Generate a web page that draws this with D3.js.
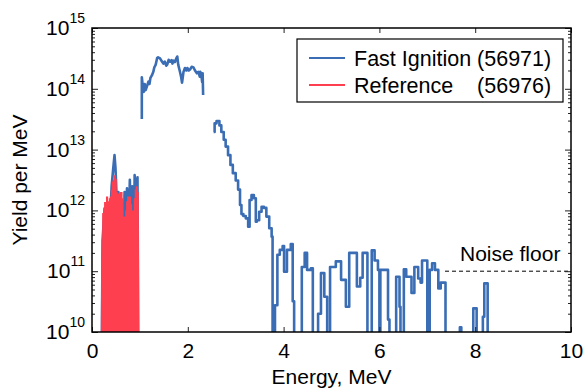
<!DOCTYPE html>
<html>
<head>
<meta charset="utf-8">
<script src="https://cdn.jsdelivr.net/npm/d3@7"></script>
<style>
  body { margin: 0; background: #fff; }
  svg { display: block; font-family: "Liberation Sans", Arial, sans-serif; }
</style>
</head>
<body>
<svg class="yield-chart"></svg>
<script>
// Fast Ignition shot, low-energy part (linear segments).
const fiLowEnergy = [0.20, 0.22, 0.26, 0.30, 0.34, 0.38, 0.41, 0.44, 0.47, 0.49, 0.51, 0.53, 0.55, 0.58,
  0.60, 0.62, 0.65, 0.68, 0.70, 0.73, 0.76, 0.79, 0.82, 0.84, 0.87, 0.89, 0.92, 0.95, 0.97];
const fiLowYield = [1e9, 3.2e11, 1e12, 6.3e11, 1.26e12, 7.9e11, 2.5e12, 4.6e12, 8.1e12, 5.0e12, 2.0e12, 7.9e11, 2.0e12, 2.0e11,
  3.2e11, 1e12, 2.0e11, 2.0e12, 1.6e11, 2.3e12, 3.7e11, 3.2e12, 1.6e11, 2.5e12, 1e11, 3.8e12, 1.58e12, 3.5e12, 1e9];

// Fast Ignition shot, peak between 1 and 2.3 MeV.
const fiPeakEnergy = [1.04, 1.04, 1.06, 1.08, 1.10, 1.12, 1.15, 1.18, 1.20, 1.22, 1.25, 1.28, 1.30, 1.33, 1.36, 1.38,
  1.42, 1.45, 1.49, 1.52, 1.55, 1.57, 1.60, 1.63, 1.66, 1.68, 1.70, 1.73, 1.76, 1.78, 1.80, 1.83, 1.86, 1.88,
  1.91, 1.94, 1.97, 1.99, 2.02, 2.05, 2.08, 2.12, 2.15, 2.19, 2.22, 2.25, 2.26, 2.28, 2.30, 2.31, 2.32];
const fiPeakYield = [3.2e13, 1.55e14, 1.12e14, 8.9e13, 1.2e14, 9.5e13, 1.12e14, 1.32e14, 1.2e14, 1.51e14, 1.66e14, 1.9e14, 2.24e14, 2.5e14, 3.2e14, 3.3e14,
  3.16e14, 2.9e14, 2.6e14, 2.8e14, 2.4e14, 2.5e14, 3.0e14, 2.8e14, 2.95e14, 2.6e14, 2.9e14, 2.75e14, 3.16e14, 3.4e14, 2.5e14, 2.0e14, 1.58e14, 1.26e14,
  1.9e14, 2.2e14, 2.0e14, 2.2e14, 2.0e14, 2.1e14, 2.3e14, 2.24e14, 2.0e14, 1.8e14, 1.9e14, 1.58e14, 1.9e14, 1.74e14, 1.29e14, 1.8e14, 7.9e13];

// Fast Ignition shot, tail from 2.5 MeV (histogram steps).
const fiTailEnergy = [2.54, 2.56, 2.60, 2.66, 2.70, 2.75, 2.79, 2.84, 2.89, 2.94, 3.00, 3.05, 3.09, 3.12, 3.16, 3.21,
  3.26, 3.29, 3.33, 3.38, 3.42, 3.44, 3.49, 3.54, 3.59, 3.64, 3.70, 3.75, 3.77, 3.82, 3.87, 3.92, 3.98, 4.01,
  4.07, 4.15, 4.19, 4.22, 4.38, 4.44, 4.49, 4.57, 4.61, 4.72, 4.78, 4.85, 4.91, 4.97, 5.09, 5.20, 5.30, 5.37,
  5.53, 5.60, 5.65, 5.75, 5.84, 5.90, 5.97, 6.00, 6.02, 6.18, 6.21, 6.35, 6.42, 6.44, 6.51, 6.56, 6.67, 6.73,
  6.81, 6.86, 6.89, 7.00, 7.05, 7.10, 7.16, 7.23, 7.28, 7.38, 7.68, 7.71, 7.96, 8.03, 8.16, 8.19, 8.26, 8.30];
const fiTailYield = [1.95e13, 2.7e13, 2.95e13, 2.5e13, 1.95e13, 1.45e13, 1.12e13, 8.1e12, 5.6e12, 4.1e12, 3.1e12, 2.2e12, 1.23e12, 8.7e11, 8.1e11, 7.4e11,
  5.4e11, 1.48e12, 1.78e12, 1.58e12, 6.5e11, 6.9e11, 9.5e11, 1.15e12, 1.1e12, 7.9e11, 5.1e11, 3.7e11, 1e9, 2.75e10, 1.86e11, 2.24e11, 2.6e11, 9.8e10,
  2.24e11, 2.8e11, 3.2e10, 1e9, 1.17e11, 2.0e11, 1.05e11, 1.12e11, 1e9, 2.0e10, 9.3e10, 3.8e10, 1e9, 1.17e11, 1.45e11, 7.2e10, 2.6e10, 2.0e11,
  5.6e10, 7.8e10, 2.0e11, 1e9, 2.2e11, 1.5e11, 1.05e11, 1e9, 1.05e11, 1.6e10, 1e9, 8.1e10, 2.6e10, 1e9, 1.07e11, 8.1e10, 4.4e10, 1.17e11,
  7.6e10, 6.5e10, 1.5e11, 1e9, 1.05e11, 1.35e11, 1.05e11, 5.2e10, 6.5e10, 1e9, 1.2e10, 1e9, 2.45e10, 1e9, 1.78e10, 6.3e10, 1e9, 1e9];

// Reference shot.
const refEnergy = [0.200, 0.215, 0.225, 0.235, 0.245, 0.255, 0.265, 0.275, 0.285, 0.295, 0.305, 0.315, 0.325, 0.335,
  0.345, 0.355, 0.365, 0.375, 0.385, 0.395, 0.405, 0.415, 0.425, 0.435, 0.445, 0.455, 0.465, 0.475, 0.485,
  0.495, 0.505, 0.515, 0.525, 0.535, 0.545, 0.555, 0.565, 0.575, 0.585, 0.595, 0.605, 0.615, 0.625, 0.635,
  0.645, 0.655, 0.665, 0.675, 0.685, 0.695, 0.705, 0.715, 0.725, 0.735, 0.745, 0.755, 0.765, 0.775, 0.785,
  0.795, 0.805, 0.815, 0.825, 0.835, 0.845, 0.855, 0.865, 0.875, 0.885, 0.895, 0.905, 0.915, 0.925, 0.935,
  0.945, 0.955, 0.965];
const refYield = [1e9, 1.6e11, 1e9, 9.1e11, 3e9, 1.12e12, 1e10, 1.38e12, 1e9, 1.26e12, 1.6e10, 1.7e12, 1e9, 1.41e12,
  6e9, 1.12e12, 1e9, 1.58e12, 3e10, 1.7e12, 1e9, 2.2e12, 4e9, 3.0e12, 1e9, 3.2e12, 1.2e10, 3.8e12, 1e9,
  3.3e12, 2.5e9, 2.0e12, 1e9, 1.58e12, 1e9, 1.9e12, 1e10, 1.78e12, 1e9, 2.0e12, 5e9, 2.0e12, 1e9, 1.58e12,
  2e10, 6.3e11, 1e9, 7.9e11, 2e9, 4.0e11, 1e9, 1.0e12, 6e9, 1.41e12, 1e9, 1.7e12, 1e10, 1.58e12, 1e9,
  1.7e12, 3e9, 1.26e12, 1e9, 7.9e11, 1.6e10, 1.0e12, 1e9, 6.3e11, 4e9, 1.58e12, 1e9, 2.2e12, 8e9, 2.5e12,
  1e9, 2.0e12, 1e9];

const xTicks = [0, 2, 4, 6, 8, 10];
const yDecades = [1e10, 1e11, 1e12, 1e13, 1e14, 1e15];
const noiseFloor = 1e11;
const noiseFloorStart = 7.37;
const legendLabels = ['Fast Ignition', 'Reference'];
const legendShots = ['(56971)', '(56976)'];

const width = 586;
const height = 392;
const plot = { left: 92, right: 571, top: 28, bottom: 332 };
const blue = '#3a6db4';
const red = '#fd3f4f';
const font = 21;

const svg = d3.select('.yield-chart')
  .attr('width', width)
  .attr('height', height)
  .attr('viewBox', `0 0 ${width} ${height}`);

const xScale = d3.scaleLinear().domain([0, 10]).range([plot.left, plot.right]);
const yScale = d3.scaleLog().domain([1e10, 1e15]).range([plot.bottom, plot.top]);

svg.append('clipPath').attr('id', 'plot-clip')
  .append('rect')
  .attr('x', plot.left).attr('y', plot.top)
  .attr('width', plot.right - plot.left)
  .attr('height', plot.bottom - plot.top);

const data = svg.append('g').attr('clip-path', 'url(#plot-clip)');

const line = d3.line()
  .x((d) => xScale(d[0]))
  .y((d) => yScale(d[1]));
const stepLine = d3.line()
  .x((d) => xScale(d[0]))
  .y((d) => yScale(d[1]))
  .curve(d3.curveStepAfter);

// Blue first so that the reference shot sits on top of it.
[
  [fiLowEnergy, fiLowYield, line],
  [fiPeakEnergy, fiPeakYield, line],
  [fiTailEnergy, fiTailYield, stepLine],
].forEach(([e, v, gen]) => {
  data.append('path')
    .datum(d3.zip(e, v))
    .attr('d', gen)
    .attr('fill', 'none')
    .attr('stroke', blue)
    .attr('stroke-width', 2.6)
    .attr('stroke-linejoin', 'round');
});

data.append('path')
  .datum(d3.zip(refEnergy, refYield))
  .attr('d', line)
  .attr('fill', 'none')
  .attr('stroke', red)
  .attr('stroke-width', 2.2);

// Noise floor marker.
svg.append('line')
  .attr('x1', xScale(noiseFloorStart)).attr('x2', xScale(10))
  .attr('y1', yScale(noiseFloor)).attr('y2', yScale(noiseFloor))
  .attr('stroke', '#000')
  .attr('stroke-width', 1)
  .attr('stroke-dasharray', '4,3');
svg.append('text')
  .attr('x', 460).attr('y', 261)
  .attr('font-size', font)
  .text('Noise floor');

/**
 * Axes: all ticks point inward, minor log ticks on left and right.
 */
const yMinor = yScale.ticks().filter((t) => !yDecades.includes(t));
const cleanAxis = (g) => {
  g.select('.domain').remove();
  g.selectAll('.tick line').attr('stroke', '#222').attr('stroke-width', 1);
};

svg.append('g')
  .attr('transform', `translate(0, ${plot.bottom})`)
  .call(d3.axisBottom(xScale).tickValues(xTicks).tickSize(-5).tickPadding(11).tickFormat(d3.format('d')))
  .call(cleanAxis)
  .selectAll('text')
  .attr('font-size', font)
  .attr('font-family', null)
  .attr('fill', '#000');

svg.append('g')
  .attr('transform', `translate(0, ${plot.top})`)
  .call(d3.axisTop(xScale).tickValues(xTicks).tickSize(-5).tickFormat(''))
  .call(cleanAxis);

[[d3.axisLeft, plot.left], [d3.axisRight, plot.right]].forEach(([axis, pos]) => {
  svg.append('g')
    .attr('transform', `translate(${pos}, 0)`)
    .call(axis(yScale).tickValues(yDecades).tickSize(-6).tickFormat(''))
    .call(cleanAxis);
  svg.append('g')
    .attr('transform', `translate(${pos}, 0)`)
    .call(axis(yScale).tickValues(yMinor).tickSize(-3).tickFormat(''))
    .call(cleanAxis);
});

// Y tick labels as 10 with a superscript exponent.
const yLabels = svg.append('g').attr('text-anchor', 'end');
yDecades.forEach((v) => {
  const t = yLabels.append('text')
    .attr('x', 85)
    .attr('y', yScale(v) + 7);
  t.append('tspan').attr('font-size', font).text('10');
  t.append('tspan').attr('font-size', 14).attr('dy', -12).text(Math.round(Math.log10(v)));
});

// Frame.
svg.append('rect')
  .attr('x', plot.left).attr('y', plot.top)
  .attr('width', plot.right - plot.left)
  .attr('height', plot.bottom - plot.top)
  .attr('fill', 'none')
  .attr('stroke', '#000')
  .attr('stroke-width', 1.5);

// Axis titles.
svg.append('text')
  .attr('x', (plot.left + plot.right) / 2)
  .attr('y', 384)
  .attr('text-anchor', 'middle')
  .attr('font-size', font)
  .text('Energy, MeV');

svg.append('text')
  .attr('transform', `translate(27, ${(plot.top + plot.bottom) / 2}) rotate(-90)`)
  .attr('text-anchor', 'middle')
  .attr('font-size', font)
  .text('Yield per MeV');

// Legend: first row is one string, the second shot number lines up with its end.
const legend = svg.append('g');
legend.append('rect')
  .attr('x', 297).attr('y', 39)
  .attr('width', 266).attr('height', 63)
  .attr('fill', '#fff')
  .attr('stroke', '#000')
  .attr('stroke-width', 1.2);
const legendFont = 21.5;
let rowEnd = 557;
[blue, red].forEach((c, i) => {
  const rowY = 58 + i * 27;
  legend.append('line')
    .attr('x1', 309).attr('x2', 345)
    .attr('y1', rowY).attr('y2', rowY)
    .attr('stroke', c)
    .attr('stroke-width', 2.2);
  if (i === 0) {
    const t = legend.append('text')
      .attr('x', 354).attr('y', rowY + 8)
      .attr('font-size', legendFont)
      .text(`${legendLabels[i]} ${legendShots[i]}`);
    rowEnd = 354 + t.node().getComputedTextLength();
  } else {
    legend.append('text')
      .attr('x', 354).attr('y', rowY + 8)
      .attr('font-size', legendFont)
      .text(legendLabels[i]);
    legend.append('text')
      .attr('x', rowEnd).attr('y', rowY + 8)
      .attr('text-anchor', 'end')
      .attr('font-size', legendFont)
      .text(legendShots[i]);
  }
});
</script>
</body>
</html>
